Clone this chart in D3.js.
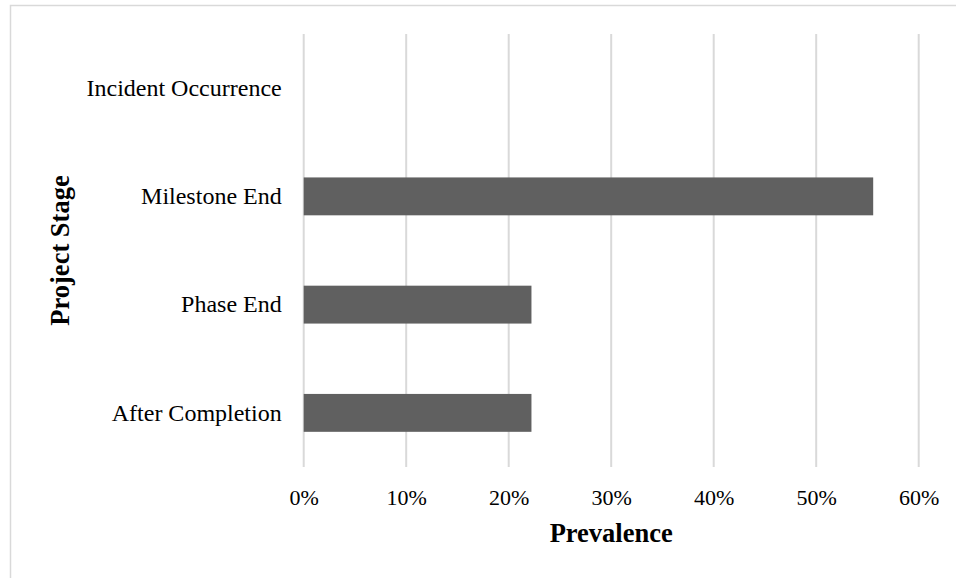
<!DOCTYPE html>
<html><head><meta charset="utf-8">
<script src="https://cdn.jsdelivr.net/npm/d3@7"></script>
<style>html,body{margin:0;padding:0;background:#fff}</style>
</head><body>
<svg id="chart" width="956" height="578"></svg>
<script>
const categories = ["Incident Occurrence", "Milestone End", "Phase End", "After Completion"];
const values = [0, 0.5556, 0.2222, 0.2222];
const xTicks = [0, 0.1, 0.2, 0.3, 0.4, 0.5, 0.6];
const xTitle = "Prevalence";
const yTitle = "Project Stage";

const svg = d3.select("#chart");
const font = "'Liberation Serif','Times New Roman',serif";

// outer frame
svg.append("rect").attr("x", 10.5).attr("y", 5.5).attr("width", 960).attr("height", 600)
  .attr("fill", "none").attr("stroke", "#d9d9d9").attr("stroke-width", 1.5);

const x = d3.scaleLinear().domain([0, 0.6]).range([303.7, 918.7]);
const y = d3.scaleBand().domain(categories).range([34, 467]).paddingInner(0.65).paddingOuter(0.325);

// gridlines
svg.append("g").selectAll("line").data(xTicks).join("line")
  .attr("x1", d => x(d)).attr("x2", d => x(d))
  .attr("y1", 34).attr("y2", 467)
  .attr("stroke", "#d9d9d9").attr("stroke-width", 2);

// bars
svg.append("g").selectAll("rect").data(categories).join("rect")
  .attr("x", x(0)).attr("y", d => y(d))
  .attr("width", (d, i) => x(values[i]) - x(0))
  .attr("height", y.bandwidth())
  .attr("fill", "#606060");

// x axis labels
const xAxis = d3.axisBottom(x).tickValues(xTicks).tickFormat(d3.format(".0%")).tickSize(0).tickPadding(0);
const gx = svg.append("g").attr("transform", "translate(0,490)").call(xAxis);
gx.select(".domain").remove();
gx.selectAll("text").attr("font-family", font).attr("font-size", 22).attr("fill", "#000").attr("dy", "0.7em");

// y axis labels
const yAxis = d3.axisLeft(y).tickSize(0).tickPadding(22);
const gy = svg.append("g").attr("transform", `translate(${x(0)},0)`).call(yAxis);
gy.select(".domain").remove();
gy.selectAll("text").attr("font-family", font).attr("font-size", 24).attr("fill", "#000");

// titles
svg.append("text").attr("x", (x(0) + x(0.6)) / 2).attr("y", 542)
  .attr("text-anchor", "middle").attr("font-family", font).attr("font-weight", "bold")
  .attr("font-size", 26.5).attr("fill", "#000").text(xTitle);

svg.append("text").attr("transform", `translate(69,${(34 + 467) / 2}) rotate(-90)`)
  .attr("text-anchor", "middle").attr("font-family", font).attr("font-weight", "bold")
  .attr("font-size", 26.5).attr("fill", "#000").text(yTitle);
</script>
</body></html>
